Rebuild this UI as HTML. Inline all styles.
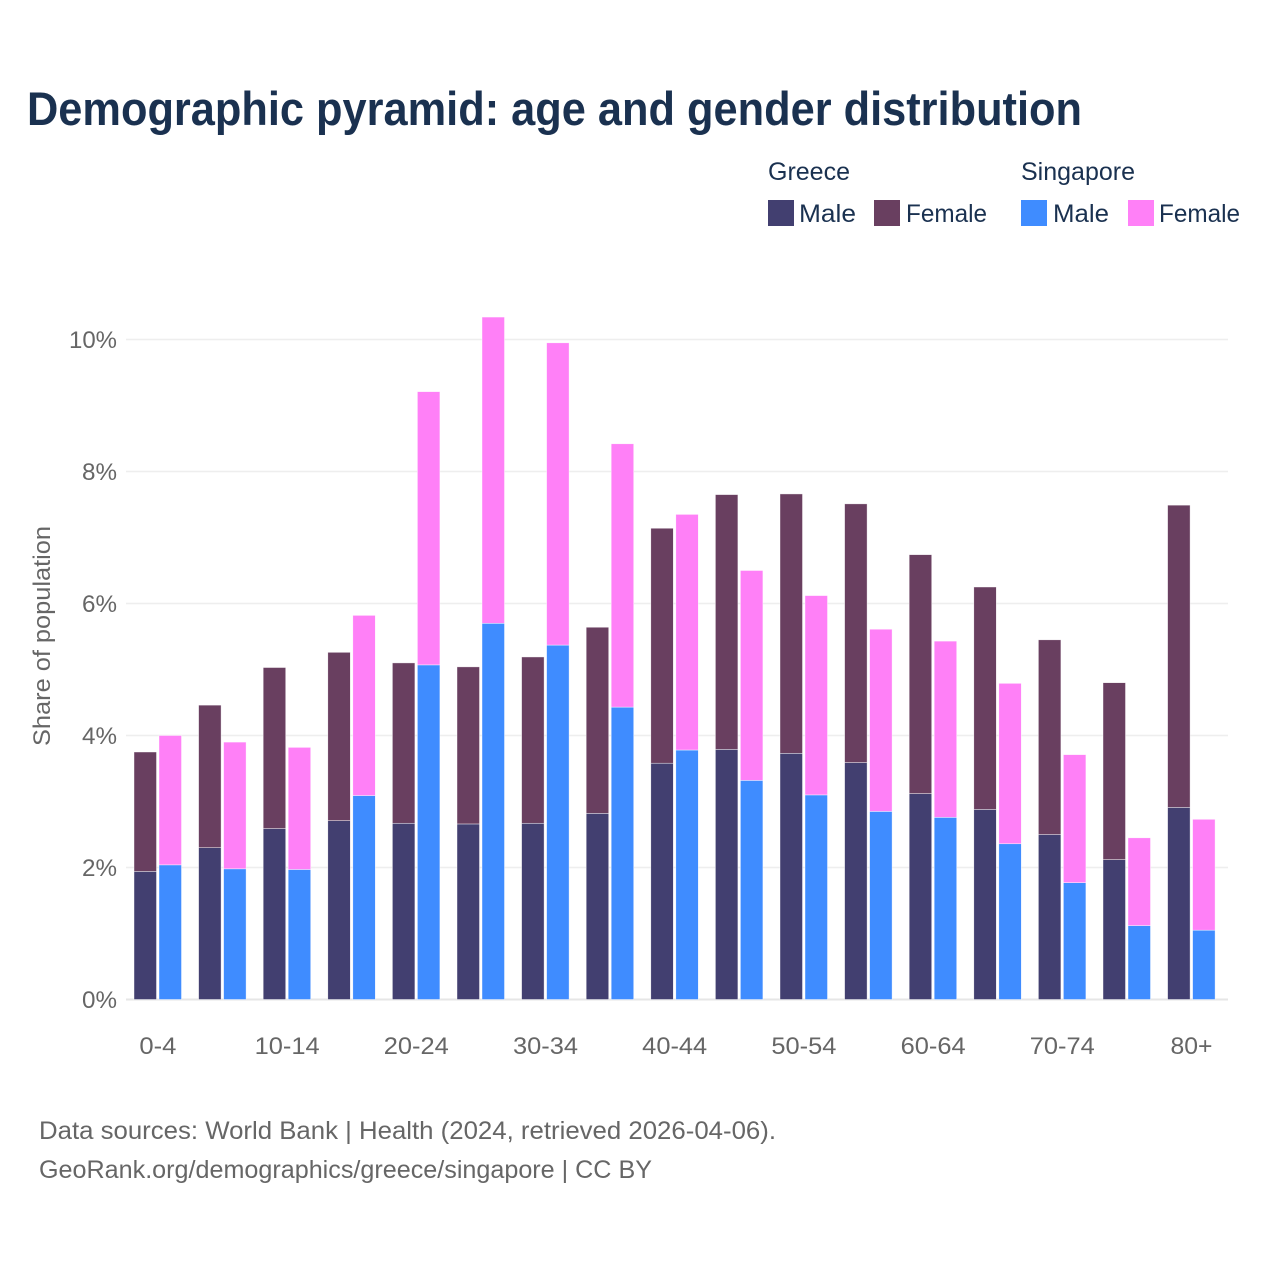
<!DOCTYPE html>
<html lang="en">
<head>
<meta charset="utf-8">
<title>Demographic pyramid: age and gender distribution</title>
<style>
html,body{margin:0;padding:0;background:#fff;}
svg{display:block;}
text{font-family:"Liberation Sans",Carlito,sans-serif;}
</style>
</head>
<body>
<svg id="chart" xmlns="http://www.w3.org/2000/svg" width="1280" height="1280" viewBox="0 0 1280 1280">
  <rect width="1280" height="1280" fill="#ffffff"/>
  <text x="27" y="125" font-size="47" font-weight="700" fill="#1a3150" textLength="1055" lengthAdjust="spacingAndGlyphs">Demographic pyramid: age and gender distribution</text>

  <g font-size="25" fill="#1a3150">
    <text x="768" y="180" textLength="82" lengthAdjust="spacingAndGlyphs">Greece</text>
    <text x="1021" y="180" textLength="114" lengthAdjust="spacingAndGlyphs">Singapore</text>
    <rect x="768" y="200" width="26" height="26" fill="#423f70"/>
    <text x="799" y="222" textLength="57" lengthAdjust="spacingAndGlyphs">Male</text>
    <rect x="874" y="200" width="26" height="26" fill="#693f60"/>
    <text x="906" y="222" textLength="81" lengthAdjust="spacingAndGlyphs">Female</text>
    <rect x="1021" y="200" width="26" height="26" fill="#3f8cff"/>
    <text x="1053" y="222" textLength="56" lengthAdjust="spacingAndGlyphs">Male</text>
    <rect x="1128" y="200" width="26" height="26" fill="#ff80f7"/>
    <text x="1159" y="222" textLength="81" lengthAdjust="spacingAndGlyphs">Female</text>
  </g>

  <g id="grid"></g>
  <g id="bars"></g>
  <g id="y-axis"></g>
  <g id="x-axis"></g>

  <text transform="translate(50,746) rotate(-90)" x="0" y="0" font-size="24" fill="#666666" textLength="220" lengthAdjust="spacingAndGlyphs">Share of population</text>

  <text x="39" y="1139" font-size="25" fill="#666666" textLength="737" lengthAdjust="spacingAndGlyphs">Data sources: World Bank | Health (2024, retrieved 2026-04-06).</text>
  <text x="39" y="1178" font-size="25" fill="#666666" textLength="613" lengthAdjust="spacingAndGlyphs">GeoRank.org/demographics/greece/singapore | CC BY</text>
</svg>

<script>
const ageGroups = ["0-4","5-9","10-14","15-19","20-24","25-29","30-34","35-39","40-44","45-49","50-54","55-59","60-64","65-69","70-74","75-79","80+"];
const greeceMale = [1.94,2.30,2.59,2.71,2.67,2.66,2.67,2.82,3.58,3.79,3.73,3.59,3.12,2.88,2.50,2.12,2.91];
const greeceFemale = [1.81,2.16,2.44,2.55,2.43,2.38,2.52,2.82,3.56,3.86,3.93,3.92,3.62,3.37,2.95,2.68,4.58];
const singaporeMale = [2.04,1.98,1.97,3.09,5.07,5.70,5.37,4.43,3.78,3.32,3.10,2.85,2.76,2.36,1.77,1.12,1.05];
const singaporeFemale = [1.96,1.92,1.85,2.73,4.14,4.64,4.58,3.99,3.57,3.18,3.02,2.76,2.67,2.43,1.94,1.33,1.68];
const yTicks = [0,2,4,6,8,10];
const xTickLabels = ["0-4","10-14","20-24","30-34","40-44","50-54","60-64","70-74","80+"];

const SVG_NS = "http://www.w3.org/2000/svg";
const y0 = 999.5, pxPerUnit = 66;
const x0 = 157.5, step = 64.6;
const plotLeft = 126, plotRight = 1228;
const barW = 22.5;

function yScale(v){ return y0 - v * pxPerUnit; }
function xScale(i){ return x0 + i * step; }

function addEl(parent, tag, attrs){
  const el = document.createElementNS(SVG_NS, tag);
  for (const k in attrs) el.setAttribute(k, attrs[k]);
  parent.appendChild(el);
  return el;
}

const grid = document.getElementById("grid");
const yAxis = document.getElementById("y-axis");
const xAxis = document.getElementById("x-axis");
const bars = document.getElementById("bars");

yTicks.forEach(function(t){
  const line = addEl(grid, "line", {x1: plotLeft, x2: plotRight, y1: yScale(t), y2: yScale(t), stroke: t === 0 ? "#e6e6e6" : "#eeeeee", "stroke-width": t === 0 ? 2 : 1.5});
  
  
  const label = addEl(yAxis, "text", {x: 117, y: yScale(t) + 8.5, "text-anchor": "end", "font-size": 24, fill: "#666666", textLength: t === 10 ? 48 : 35, lengthAdjust: "spacingAndGlyphs"});
  label.textContent = t + "%";
  
  
});

xTickLabels.forEach(function(name){
  const i = ageGroups.indexOf(name);
  const width = name.length === 5 ? 65 : name.length === 3 && name.indexOf("+") >= 0 ? 42 : 37;
  const label = addEl(xAxis, "text", {x: xScale(i) + 0.4, y: 1054, "text-anchor": "middle", "font-size": 24, fill: "#666666", textLength: width, lengthAdjust: "spacingAndGlyphs"});
  label.textContent = name;
  
  
});

function drawBar(x, base, value, color){
  const top = yScale(base + value);
  const bottom = yScale(base);
  const bar = addEl(bars, "rect", {x: x, y: top, width: barW, height: bottom - top, fill: color, stroke: "#ffffff", "stroke-width": 0.6, "stroke-opacity": 0.7});
  
  
}

ageGroups.forEach(function(age, i){
  const cx = xScale(i);
  drawBar(cx - 23.5, 0, greeceMale[i], "#423f70");
  drawBar(cx - 23.5, greeceMale[i], greeceFemale[i], "#693f60");
  drawBar(cx + 1.5, 0, singaporeMale[i], "#3f8cff");
  drawBar(cx + 1.5, singaporeMale[i], singaporeFemale[i], "#ff80f7");
});
</script>
</body>
</html>
